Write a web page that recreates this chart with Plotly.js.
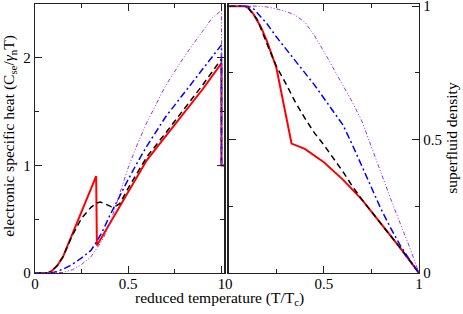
<!DOCTYPE html>
<html>
<head>
<meta charset="utf-8">
<script src="https://cdn.plot.ly/plotly-3.0.1.min.js"></script>
<style>html,body{margin:0;padding:0;background:#fff;}#plot{width:463px;height:314px;}</style>
</head>
<body>
<div id="plot"></div>
<script>
// Left panel: electronic specific heat vs reduced temperature
const cRedT = [0, 0.05, 0.07, 0.09, 0.12, 0.15, 0.2, 0.25, 0.3, 0.328, 0.332, 0.4, 0.45, 0.5, 0.5625, 0.6, 0.7, 0.8, 0.9, 1.0, 1.0, 1.015];
const cRedV = [0, 0, 0, 0.02, 0.07, 0.15, 0.36, 0.56, 0.77, 0.9, 0.256, 0.46, 0.61, 0.76, 0.935, 1.05, 1.27, 1.49, 1.71, 1.95, 1.0, 1.0];
const cBlackT = [0, 0.05, 0.07, 0.09, 0.12, 0.15, 0.2, 0.25, 0.3, 0.33, 0.35, 0.38, 0.41, 0.43, 0.455, 0.5, 0.6, 0.7, 0.8, 0.9, 1.0, 1.0, 1.015];
const cBlackV = [0, 0, 0, 0.02, 0.07, 0.15, 0.35, 0.51, 0.61, 0.65, 0.66, 0.64, 0.615, 0.62, 0.645, 0.79, 1.08, 1.30, 1.52, 1.75, 1.99, 1.0, 1.0];
const cBlueT = [0, 0.08, 0.1, 0.15, 0.2, 0.25, 0.3, 0.33, 0.36, 0.4, 0.42, 0.45, 0.5, 0.55, 0.6, 0.7, 0.8, 0.9, 0.95, 1.0, 1.0, 1.015];
const cBlueV = [0, 0, 0.005, 0.035, 0.08, 0.14, 0.21, 0.29, 0.38, 0.53, 0.6, 0.7, 0.87, 1.03, 1.18, 1.45, 1.67, 1.89, 2.0, 2.12, 1.0, 1.0];
const cVioT = [0, 0.12, 0.15, 0.2, 0.25, 0.3, 0.33, 0.36, 0.4, 0.42, 0.45, 0.5, 0.55, 0.6, 0.7, 0.8, 0.9, 0.95, 1.0, 1.0, 1.015];
const cVioV = [0, 0, 0.005, 0.03, 0.08, 0.15, 0.22, 0.3, 0.45, 0.56, 0.72, 0.98, 1.2, 1.4, 1.74, 2.01, 2.25, 2.37, 2.44, 1.0, 1.0];

// Right panel: superfluid density vs reduced temperature
const rRedT = [0, 0.08, 0.1, 0.13, 0.17, 0.2, 0.25, 0.3, 0.33, 0.4, 0.5, 0.6, 0.7, 0.8, 0.9, 1.0];
const rRedV = [1, 1, 0.995, 0.97, 0.92, 0.87, 0.77, 0.59, 0.485, 0.465, 0.415, 0.35, 0.275, 0.185, 0.095, 0];
const rBlackT = [0, 0.08, 0.1, 0.15, 0.2, 0.25, 0.3, 0.35, 0.4, 0.45, 0.5, 0.55, 0.6, 0.65, 0.7, 0.8, 0.9, 1.0];
const rBlackV = [1, 1, 0.995, 0.95, 0.86, 0.775, 0.71, 0.64, 0.58, 0.525, 0.48, 0.43, 0.38, 0.325, 0.275, 0.185, 0.095, 0];
const rBlueT = [0, 0.1, 0.13, 0.17, 0.2, 0.25, 0.3, 0.345, 0.4, 0.45, 0.5, 0.55, 0.6, 0.65, 0.7, 0.75, 0.8, 0.85, 0.9, 0.95, 1.0];
const rBlueV = [1, 1, 0.99, 0.96, 0.935, 0.885, 0.84, 0.8, 0.75, 0.705, 0.655, 0.605, 0.555, 0.48, 0.4, 0.32, 0.24, 0.17, 0.105, 0.05, 0];
const rVioT = [0, 0.15, 0.2, 0.25, 0.3, 0.345, 0.4, 0.45, 0.5, 0.55, 0.6, 0.65, 0.7, 0.75, 0.8, 0.85, 0.9, 0.95, 1.0];
const rVioV = [1, 1, 0.997, 0.99, 0.98, 0.968, 0.94, 0.89, 0.83, 0.765, 0.7, 0.64, 0.569, 0.47, 0.375, 0.28, 0.188, 0.098, 0];

const xTickVals = [0, 0.5, 1];
const xTickText = ['0', '0.5', '1'];
const leftYTickVals = [0, 1, 2];
const rightYTickVals = [0, 0.5, 1];
const rightYTickText = ['0', '0.5', '1'];

const FONT = 'Liberation Serif, Times New Roman, serif';
const RED = '#ff0000', BLACK = '#000000', BLUE = '#0000ff', VIO = '#9b30e8';

function tr(x, y, xa, ya, color, width, dash) {
  return {x: x, y: y, xaxis: xa, yaxis: ya, type: 'scatter', mode: 'lines',
    line: {color: color, width: width, dash: dash}, showlegend: false, hoverinfo: 'skip'};
}

const data = [
  tr(cRedT, cRedV, 'x', 'y', RED, 2, 'solid'),
  tr(cBlackT, cBlackV, 'x', 'y', BLACK, 1.5, '6px,4px'),
  tr(cBlueT, cBlueV, 'x', 'y', BLUE, 1.5, '7px,3px,2px,3px'),
  tr(cVioT, cVioV, 'x', 'y', VIO, 1, '4px,2px,1px,2px,1px,2px'),
  tr(rRedT, rRedV, 'x2', 'y2', RED, 2, 'solid'),
  tr(rBlackT, rBlackV, 'x2', 'y2', BLACK, 1.5, '6px,4px'),
  tr(rBlueT, rBlueV, 'x2', 'y2', BLUE, 1.5, '7px,3px,2px,3px'),
  tr(rVioT, rVioV, 'x2', 'y2', VIO, 1, '4px,2px,1px,2px,1px,2px')
];

const axBase = {
  showgrid: false, zeroline: false, showline: true, mirror: 'allticks',
  linecolor: '#222', linewidth: 1.3, ticks: 'inside', ticklen: 7, tickwidth: 1, tickcolor: '#222',
  tickfont: {family: FONT, size: 15, color: '#000'}, fixedrange: true, ticklabeloverflow: 'allow'
};

const layout = {
  width: 463, height: 314,
  margin: {l: 35, r: 43.5, t: 3.5, b: 41.3, pad: 0},
  paper_bgcolor: '#fff', plot_bgcolor: '#fff',
  font: {family: FONT, size: 15, color: '#000'},
  xaxis: Object.assign({}, axBase, {domain: [0, 0.4929], range: [0, 1.015], anchor: 'y',
    tickmode: 'array', tickvals: xTickVals, ticktext: xTickText, ticklabelstandoff: -3,
    minor: {tickmode: 'array', tickvals: [0.25, 0.75], ticks: 'inside', ticklen: 4, tickcolor: '#222'}}),
  yaxis: Object.assign({}, axBase, {domain: [0, 1], range: [0, 2.5], anchor: 'x',
    tickmode: 'array', tickvals: leftYTickVals, ticktext: leftYTickVals.map(String),
    minor: {tickmode: 'array', tickvals: [0.5, 1.5], ticks: 'inside', ticklen: 4, tickcolor: '#222'}}),
  xaxis2: Object.assign({}, axBase, {domain: [0.5046, 1], range: [0, 1], anchor: 'y2',
    tickmode: 'array', tickvals: xTickVals, ticktext: xTickText, ticklabelstandoff: -3,
    minor: {tickmode: 'array', tickvals: [0.25, 0.75], ticks: 'inside', ticklen: 4, tickcolor: '#222'}}),
  yaxis2: Object.assign({}, axBase, {domain: [0, 1], range: [0, 1.008], anchor: 'x2', side: 'right',
    tickmode: 'array', tickvals: rightYTickVals, ticktext: rightYTickText,
    minor: {tickmode: 'array', tickvals: [0.25, 0.75], ticks: 'inside', ticklen: 4, tickcolor: '#222'}}),
  annotations: [
    {text: 'reduced temperature (T/T<sub>c</sub>)', xref: 'paper', yref: 'paper', x: 0.481, y: -0.094,
     xanchor: 'center', yanchor: 'middle', showarrow: false, font: {family: FONT, size: 15.5}},
    {text: 'electronic specific heat (C<sub>se</sub>/<i>γ</i><sub>n</sub>T)', xref: 'paper', yref: 'paper',
     x: -0.065, y: 0.51, xanchor: 'center', yanchor: 'middle', textangle: -90, showarrow: false,
     font: {family: FONT, size: 15.5}},
    {text: 'superfluid density', xref: 'paper', yref: 'paper', x: 1.0845, y: 0.504,
     xanchor: 'center', yanchor: 'middle', textangle: -90, showarrow: false, font: {family: FONT, size: 15.5}}
  ]
};

Plotly.newPlot('plot', data, layout, {staticPlot: true, displayModeBar: false});
</script>
</body>
</html>
